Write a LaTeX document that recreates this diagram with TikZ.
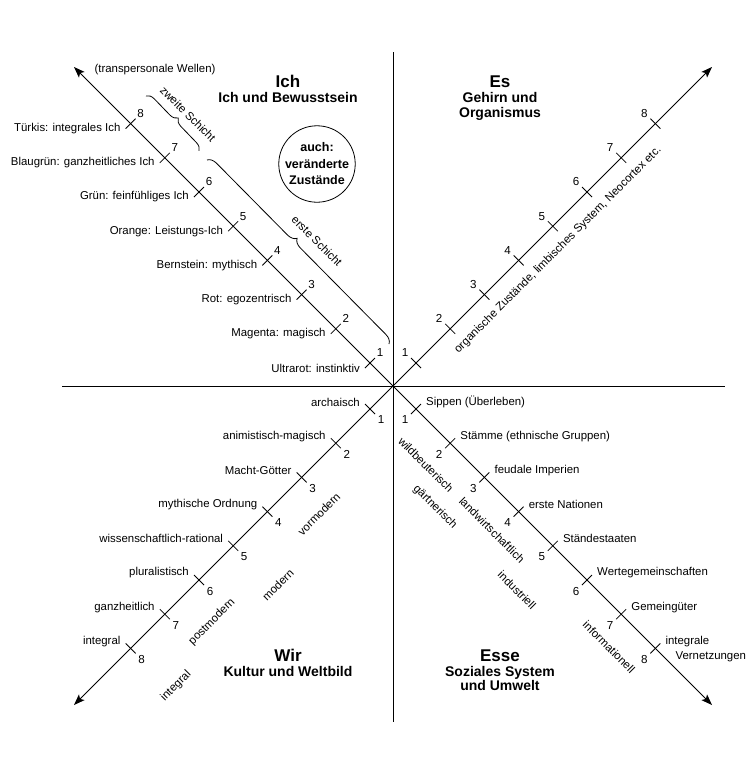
\documentclass[tikz,border=0pt]{standalone}
\usepackage{fontspec}
\setmainfont{Liberation Sans}
\usetikzlibrary{arrows.meta,decorations.pathreplacing}
\begin{document}
\begin{tikzpicture}[x=1pt,y=-1pt,
  axisline/.style={line width=0.8pt},
  arr/.style={line width=0.8pt,-{Stealth[length=11pt,width=8pt,inset=2.5pt]}},
  tickmark/.style={line width=0.8pt},
  lbl/.style={font=\fontsize{11.4}{13}\selectfont, inner sep=0pt},
  num/.style={font=\fontsize{11.6}{13}\selectfont, inner sep=0pt},
  bigtitle/.style={font=\bfseries\fontsize{17}{20}\selectfont, inner sep=0pt, anchor=base},
  subtitle/.style={font=\bfseries\fontsize{14}{15}\selectfont, inner sep=0pt, anchor=base},
  bracestyle/.style={line width=0.8pt, decorate},
]
\useasboundingbox (0,0) rectangle (750,772);
% axes
\coordinate (C) at (393,386);
\coordinate (L) at (62,386);
\coordinate (R) at (725,386);
\coordinate (T) at (393,52);
\coordinate (B) at (393,722);
\coordinate (TLend) at (74,67);
\coordinate (TRend) at (712,67);
\coordinate (BLend) at (74,705);
\coordinate (BRend) at (712,705);
\draw[axisline] (L) -- (R);
\draw[axisline] (T) -- (B);
\draw[arr] (C) -- (TLend);
\draw[arr] (C) -- (TRend);
\draw[arr] (C) -- (BLend);
\draw[arr] (C) -- (BRend);

% ticks and numbers
\foreach \n in {1,...,8}{
  \pgfmathsetmacro{\d}{23+34.2*(\n-1)}
  \coordinate (tl\n) at ({393-\d},{386-\d});
  \coordinate (tr\n) at ({393+\d},{386-\d});
  \coordinate (bl\n) at ({393-\d},{386+\d});
  \coordinate (br\n) at ({393+\d},{386+\d});
  \draw[tickmark] ([shift={(5,-5)}]tl\n) -- ([shift={(-5,5)}]tl\n);
  \draw[tickmark] ([shift={(5,5)}]tr\n) -- ([shift={(-5,-5)}]tr\n);
  \draw[tickmark] ([shift={(5,5)}]bl\n) -- ([shift={(-5,-5)}]bl\n);
  \draw[tickmark] ([shift={(5,-5)}]br\n) -- ([shift={(-5,5)}]br\n);
  \node[num] (ntl\n) at ([shift={(10,-10)}]tl\n) {\n};
  \node[num] (ntr\n) at ([shift={(-11,-10)}]tr\n) {\n};
  \node[num] (nbl\n) at ([shift={(11,11)}]bl\n) {\n};
  \node[num] (nbr\n) at ([shift={(-11,11)}]br\n) {\n};
}

% labels top-left
\foreach \n/\t in {1/Ultrarot: instinktiv, 2/Magenta: magisch, 3/Rot: egozentrisch,
  4/Bernstein: mythisch, 5/Orange: Leistungs-Ich, 6/Grün: feinfühliges Ich,
  7/Blaugrün: ganzheitliches Ich, 8/Türkis: integrales Ich}{
  \node[lbl, anchor=east] (ltl\n) at ([shift={(-10,5)}]tl\n) {\t};
}
% labels bottom-left
\foreach \n/\t in {1/archaisch, 2/animistisch-magisch, 3/Macht-Götter,
  4/mythische Ordnung, 5/wissenschaftlich-rational, 6/pluralistisch,
  7/ganzheitlich, 8/integral}{
  \node[lbl, anchor=east] (lbl\n) at ([shift={(-10,-7)}]bl\n) {\t};
}
% labels bottom-right
\foreach \n/\t in {1/Sippen (Überleben), 2/Stämme (ethnische Gruppen), 3/feudale Imperien,
  4/erste Nationen, 5/Ständestaaten, 6/Wertegemeinschaften, 7/Gemeingüter}{
  \node[lbl, anchor=west] (lbr\n) at ([shift={(10,-7)}]br\n) {\t};
}
\node[lbl, anchor=west] (lbr8a) at ([shift={(10,-7)}]br8) {integrale};
\node[lbl, anchor=west] (lbr8b) at ([shift={(20,8)}]br8) {Vernetzungen};

% transpersonal
\node[lbl] (transp) at (155,70) {(transpersonale Wellen)};

% titles
\node[bigtitle] (ich) at (288,87.5) {Ich};
\node[subtitle] (ichsub) at (288,102) {Ich und Bewusstsein};
\node[bigtitle] (es) at (500,87) {Es};
\node[subtitle] (essub1) at (500,102) {Gehirn und};
\node[subtitle] (essub2) at (500,117) {Organismus};
\node[bigtitle] (wir) at (288,661) {Wir};
\node[subtitle] (wirsub) at (288,676) {Kultur und Weltbild};
\node[bigtitle] (esse) at (500,661) {Esse};
\node[subtitle] (essesub1) at (500,676) {Soziales System};
\node[subtitle] (essesub2) at (500,690.5) {und Umwelt};

% circle
\node[draw, circle, line width=0.8pt, minimum size=74pt, inner sep=0pt, align=center,
  font=\bfseries\fontsize{12.5}{16.5}\selectfont] (states) at (317,164)
  {auch:\\veränderte\\Zustände};

% braces
\coordinate (zs1) at (146,96);
\coordinate (zs2) at (199,151);
\coordinate (es1) at (207,160);
\coordinate (es2) at (389,344);
\draw[bracestyle, decoration={brace, amplitude=8pt}] (zs1) -- (zs2);
\draw[bracestyle, decoration={brace, amplitude=9pt, aspect=0.46}] (es1) -- (es2);
\node[lbl, rotate=-45] (zweite) at (188,114) {zweite Schicht};
\node[lbl, rotate=-45] (erste) at (317,241) {erste Schicht};

% rotated texts
\node[lbl, rotate=45] (organ) at (558,250) {organische Zustände, limbisches System, Neocortex etc.};
\node[lbl, rotate=45] (vormodern) at (319,514) {vormodern};
\node[lbl, rotate=45] (modern) at (278,585) {modern};
\node[lbl, rotate=45] (postmodern) at (212,622) {postmodern};
\node[lbl, rotate=45] (integralw) at (176,686) {integral};
\node[lbl, rotate=-45] (wildb) at (426,465) {wildbeuterisch};
\node[lbl, rotate=-45] (gaert) at (435,507) {gärtnerisch};
\node[lbl, rotate=-45] (landw) at (492,530) {landwirtschaftlich};
\node[lbl, rotate=-45] (indus) at (517,590) {industriell};
\node[lbl, rotate=-45] (inform) at (609,647) {informationell};
\end{tikzpicture}
\end{document}
